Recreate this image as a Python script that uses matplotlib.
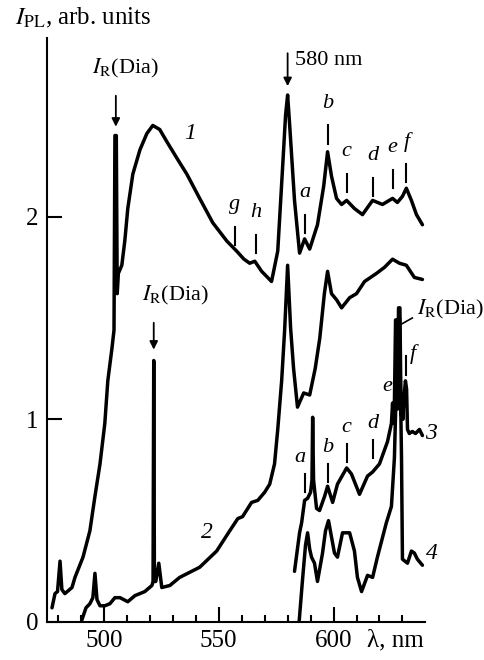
import matplotlib.pyplot as plt
from matplotlib.ticker import MultipleLocator

plt.rcParams['font.family'] = ['Liberation Serif', 'DejaVu Serif']
plt.rcParams['mathtext.fontset'] = 'stix'

# curve 1
lam1 = [477.4, 478.7, 479.8, 480.9, 481.7, 483.0, 486.1, 487.4, 490.9, 493.9, 496.1,
        498.3, 500.4, 501.7, 503.5, 504.4, 504.8, 505.4, 505.8, 506.3, 507.8, 509.1,
        510.4, 512.6, 515.7, 518.7, 521.3, 524.3, 527.4, 531.7, 536.1, 541.7, 547.4,
        553.5, 557.8, 561.0, 563.5, 565.7, 568.7, 573.0, 575.7, 577.8, 579.1, 580.0,
        580.9, 583.0, 585.2, 587.4, 589.6, 593.0, 595.7, 597.4, 599.1, 601.3, 603.5,
        605.7, 609.1, 612.6, 617.0, 621.3, 625.7, 627.8, 630.0, 631.7, 633.9, 636.1,
        638.7]
int1 = [0.07, 0.14, 0.15, 0.30, 0.16, 0.14, 0.17, 0.22, 0.32, 0.45, 0.62,
        0.78, 0.98, 1.19, 1.35, 1.44, 2.40, 2.40, 1.62, 1.72, 1.76, 1.88,
        2.04, 2.21, 2.33, 2.41, 2.45, 2.43, 2.37, 2.29, 2.21, 2.09, 1.97,
        1.88, 1.83, 1.79, 1.77, 1.78, 1.73, 1.68, 1.83, 2.24, 2.50, 2.60,
        2.45, 2.08, 1.82, 1.89, 1.84, 1.96, 2.15, 2.32, 2.20, 2.09, 2.06,
        2.08, 2.04, 2.01, 2.08, 2.06, 2.09, 2.07, 2.10, 2.14, 2.08, 2.01,
        1.96]

# curve 2
lam2 = [490.4, 492.2, 493.9, 495.2, 496.1, 497.0, 498.3, 500.4, 502.6, 504.8, 507.0,
        510.4, 513.5, 517.8, 520.9, 521.4, 521.7, 522.0, 522.6, 523.9, 525.2, 528.7,
        533.0, 541.7, 549.1, 554.8, 558.3, 560.4, 564.3, 567.0, 570.0, 572.2, 574.3,
        575.7, 577.4, 578.7, 580.0, 581.3, 582.6, 584.3, 587.0, 589.6, 592.0, 594.0,
        596.0, 597.4, 599.1, 601.3, 603.5, 607.0, 610.0, 613.5, 618.7, 622.2, 625.7,
        628.7, 631.7, 635.2, 638.7]
int2 = [0.01, 0.07, 0.09, 0.12, 0.24, 0.11, 0.08, 0.08, 0.09, 0.12, 0.12,
        0.10, 0.13, 0.15, 0.18, 0.20, 1.29, 0.20, 0.20, 0.29, 0.17, 0.18,
        0.22, 0.27, 0.35, 0.45, 0.51, 0.52, 0.59, 0.60, 0.64, 0.68, 0.78,
        0.95, 1.19, 1.44, 1.76, 1.45, 1.25, 1.06, 1.13, 1.12, 1.25, 1.40,
        1.62, 1.73, 1.62, 1.59, 1.55, 1.60, 1.62, 1.68, 1.72, 1.75, 1.79,
        1.77, 1.76, 1.70, 1.69]

# curve 3
lam3 = [583.0, 585.2, 586.1, 587.4, 588.7, 590.0, 590.6, 590.9, 591.3, 592.6, 593.9,
        596.1, 597.4, 599.6, 601.7, 605.7, 607.8, 611.3, 614.8, 617.0, 620.0, 623.5,
        625.2, 625.7, 626.1, 626.5, 627.0, 627.4, 627.8, 628.3, 628.9, 629.4, 629.8,
        630.2, 630.6, 631.3, 631.8, 632.2, 633.0, 634.3, 635.7, 637.4, 638.7]
int3 = [0.25, 0.44, 0.49, 0.60, 0.61, 0.64, 0.70, 1.01, 0.70, 0.56, 0.55,
        0.62, 0.67, 0.59, 0.68, 0.76, 0.73, 0.63, 0.72, 0.74, 0.78, 0.89,
        0.98, 1.08, 0.98, 1.08, 1.49, 1.49, 1.05, 1.55, 1.55, 1.02, 1.12,
        1.00, 1.10, 1.19, 1.15, 0.95, 0.93, 0.94, 0.93, 0.95, 0.92]

# curve 4
lam4 = [585.0, 586.5, 587.8, 588.7, 589.6, 590.4, 591.7, 593.0, 595.2, 596.5, 597.8,
        599.1, 600.4, 601.7, 603.9, 607.0, 609.1, 610.4, 612.2, 614.8, 617.0, 619.1,
        623.0, 625.2, 626.5, 627.4, 628.3, 628.7, 629.6, 630.0, 632.2, 633.9, 635.2,
        636.5, 638.7]
int4 = [0.00, 0.21, 0.38, 0.44, 0.36, 0.32, 0.29, 0.20, 0.34, 0.45, 0.50,
        0.42, 0.34, 0.32, 0.44, 0.44, 0.35, 0.22, 0.15, 0.23, 0.22, 0.32,
        0.49, 0.57, 0.81, 1.20, 1.45, 1.50, 0.80, 0.31, 0.29, 0.35, 0.34,
        0.31, 0.28]

# peak markers (letter, wavelength)
marks1 = [('g', 557.0), ('h', 566.1), ('a', 587.4), ('b', 597.4),
          ('c', 605.7), ('d', 617.0), ('e', 625.7), ('f', 631.7)]
marks1_y = [1.86, 1.82, 1.92, 2.36, 2.12, 2.10, 2.14, 2.17]
marks3 = [('a', 587.4), ('b', 597.4), ('c', 605.7), ('d', 617.0), ('e', 625.7), ('f', 631.7)]
marks3_y = [0.64, 0.69, 0.79, 0.81, 0.99, 1.22]

fig = plt.figure(figsize=(4.84, 6.6), dpi=100)
ax = fig.add_axes([0.097, 0.0576, 0.781, 0.8844])

for lam, val in [(lam1, int1), (lam2, int2), (lam3, int3), (lam4, int4)]:
    ax.plot(lam, val, color='black', lw=2.5, solid_joinstyle='round',
            solid_capstyle='round')

ax.set_xlim(475.2, 639.8)
ax.set_ylim(0, 2.88)
ax.spines['top'].set_visible(False)
ax.spines['right'].set_visible(False)
ax.spines['left'].set_linewidth(1.5)
ax.spines['bottom'].set_linewidth(1.5)
ax.set_xticks([500, 550, 600])
ax.xaxis.set_minor_locator(MultipleLocator(10))
ax.set_yticks([0, 1, 2])
ax.tick_params(axis='both', which='major', direction='in', length=11, width=1.5,
               labelsize=18, pad=6)
ax.tick_params(axis='x', which='minor', direction='in', length=5, width=1.5)

# peak ticks and letters
for (lt, lm), y0 in zip(marks1, marks1_y):
    ax.plot([lm, lm], [y0, y0 + 0.09], color='black', lw=1.5)
    ax.text(lm, y0 + 0.2, lt, style='italic', fontsize=16, ha='center', va='center')
for (lt, lm), y0 in zip(marks3, marks3_y):
    ax.plot([lm, lm], [y0, y0 + 0.09], color='black', lw=1.5)
    dx = -2.0 if lt == 'a' else (-2.3 if lt == 'e' else (3.0 if lt == 'f' else 0))
    dy = 0.17 if lt != 'f' else 0.1
    ax.text(lm + dx, y0 + dy, lt, style='italic', fontsize=16, ha='center', va='center')

# curve numbers
ax.text(537.4, 2.41, '1', style='italic', fontsize=17, ha='center', va='center')
ax.text(544.8, 0.44, '2', style='italic', fontsize=17, ha='center', va='center')
ax.text(642.6, 0.93, '3', style='italic', fontsize=17, ha='center', va='center')
ax.text(642.6, 0.34, '4', style='italic', fontsize=17, ha='center', va='center')

# Raman lines and 580 nm
arr = dict(arrowstyle='-|>', color='black', lw=1.3, mutation_scale=12)
ax.annotate('', xy=(505.2, 2.43), xytext=(505.2, 2.61), arrowprops=arr)
ax.text(494.8, 2.73, r'$I_{\rm R}$(Dia)', fontsize=16, ha='left', va='center')
ax.annotate('', xy=(521.7, 1.33), xytext=(521.7, 1.49), arrowprops=arr)
ax.text(516.5, 1.61, r'$I_{\rm R}$(Dia)', fontsize=16, ha='left', va='center')
ax.annotate('', xy=(580.0, 2.63), xytext=(580.0, 2.82), arrowprops=arr)
ax.text(583.0, 2.77, '580 nm', fontsize=16, ha='left', va='center')
ax.plot([629.6, 634.3], [1.47, 1.50], color='black', lw=1.2, clip_on=False)
ax.text(636.5, 1.54, r'$I_{\rm R}$(Dia)', fontsize=16, ha='left', va='center')

fig.text(15 / 484, 1 - 18 / 660, r'$I_{\rm PL}$, arb. units', fontsize=18,
         ha='left', va='center')
fig.text(367 / 484, 1 - 640 / 660, 'λ, nm', fontsize=18, ha='left', va='center')

fig.savefig('out.png', dpi=100)
